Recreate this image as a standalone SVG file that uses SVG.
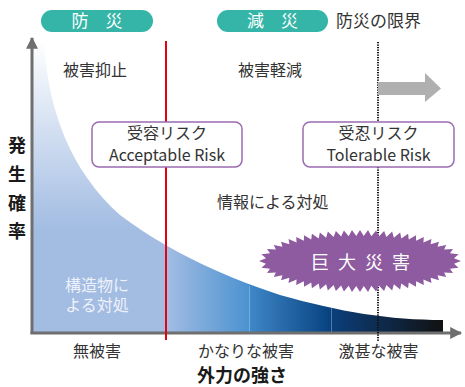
<svg xmlns="http://www.w3.org/2000/svg" width="465" height="387" viewBox="0 0 465 387">
<defs>
<style>
.t{font-family:"Noto Sans CJK JP","Noto Sans",sans-serif;font-size:16px;fill:#333;}
.w{fill:#fff;}
.c{text-anchor:middle;}
.b{font-weight:bold;fill:#1a1a1a;}
.pill{fill:#34b5a8;}
.box{fill:#fff;stroke:#9a6bb0;stroke-width:1.5;}
</style>
<linearGradient id="gv" x1="0" y1="40" x2="0" y2="230" gradientUnits="userSpaceOnUse">
<stop offset="0" stop-color="#ffffff"/>
<stop offset="1" stop-color="#a2bce2"/>
</linearGradient>
<linearGradient id="gh" x1="166" y1="0" x2="443" y2="0" gradientUnits="userSpaceOnUse">
<stop offset="0" stop-color="#a3bde3"/>
<stop offset="0.3" stop-color="#4b92d0"/>
<stop offset="0.3" stop-color="#3f88c9"/>
<stop offset="0.596" stop-color="#07417f"/>
<stop offset="0.596" stop-color="#0b3f7c"/>
<stop offset="1" stop-color="#111111"/>
</linearGradient>
<clipPath id="cl"><rect x="30" y="30" width="136" height="310"/></clipPath>
<clipPath id="cr"><rect x="166" y="30" width="290" height="310"/></clipPath>
<path id="area" d="M44,42 C48,110 70,170 120,215 C160,245 210,272 280,295 C340,312 390,320 443,320 L443,333 L32,333 L32,42 Z"/>
<marker id="ah" viewBox="0 0 10 10" refX="9" refY="5" markerWidth="4" markerHeight="4" orient="auto" markerUnits="strokeWidth"><path d="M0,0 L10,5 L0,10 Z" fill="#6f6f6f"/></marker>
</defs>

<g id="area-fill">
<use href="#area" fill="url(#gv)" clip-path="url(#cl)"/>
<use href="#area" fill="url(#gh)" clip-path="url(#cr)"/>
<line x1="249.5" y1="286" x2="249.5" y2="333" stroke="#ffffff" stroke-opacity="0.3" stroke-width="1"/>
<line x1="331.5" y1="308" x2="331.5" y2="333" stroke="#ffffff" stroke-opacity="0.3" stroke-width="1"/>
</g>

<g id="connectors">
<line x1="32" y1="334" x2="32" y2="38" stroke="#6f6f6f" stroke-width="3" marker-end="url(#ah)"/>
<line x1="30.5" y1="333" x2="461" y2="333" stroke="#6f6f6f" stroke-width="3" marker-end="url(#ah)"/>
<line x1="166" y1="41" x2="166" y2="340" stroke="#e60012" stroke-width="2"/>
<line x1="378" y1="42" x2="378" y2="341" stroke="#111" stroke-width="2" stroke-dasharray="1.2 1.3"/>
<path d="M378,82 L425,82 L425,73 L441,88.5 L425,102 L425,95 L378,95 Z" fill="#b0b0b0"/>
</g>

<g id="pill-bousai">
<rect class="pill" x="41" y="10" width="112" height="22" rx="11"/>
<text class="t w c" x="97" y="27" style="font-size:17px">防　災</text>
</g>
<g id="pill-gensai">
<rect class="pill" x="217" y="10" width="111" height="22" rx="11"/>
<text class="t w c" x="272.5" y="27" style="font-size:17px">減　災</text>
</g>
<g id="label-limit"><text class="t" x="336" y="27" style="font-size:17px">防災の限界</text></g>

<g id="label-yokushi"><text class="t" x="63" y="76">被害抑止</text></g>
<g id="label-keigen"><text class="t" x="238" y="76">被害軽減</text></g>

<g id="box-acceptable">
<rect class="box" x="92" y="122" width="150" height="45" rx="7"/>
<text class="t c" x="167" y="139">受容リスク</text>
<text class="t c" x="167" y="161">Acceptable Risk</text>
</g>
<g id="box-tolerable">
<rect class="box" x="303" y="122" width="151" height="45" rx="7"/>
<text class="t c" x="378.5" y="139">受忍リスク</text>
<text class="t c" x="378.5" y="161">Tolerable Risk</text>
</g>

<g id="label-yaxis">
<text class="t b c" x="17" y="152" style="font-size:18px">発</text>
<text class="t b c" x="17" y="181" style="font-size:18px">生</text>
<text class="t b c" x="17" y="210" style="font-size:18px">確</text>
<text class="t b c" x="17" y="238" style="font-size:18px">率</text>
</g>

<g id="label-info"><text class="t" x="217" y="208">情報による対処</text></g>

<g id="label-structure">
<text class="t c" style="fill:#eef2fa"><tspan x="97" y="291">構造物に</tspan><tspan x="97" y="311">よる対処</tspan></text>
</g>

<g id="burst">
<path fill="#8e5ba0" transform="translate(360,261) scale(1.052,1)" d="M96,0 L89.41,2.87 L93.65,6.82 L85.54,7.77 L88.39,12.09 L79.93,11.49 L82.02,16.11 L73.70,14.35 L75.12,19.30 L67.09,16.66 L67.95,21.90 L60.29,18.56 L60.64,24.03 L53.37,20.13 L53.21,25.80 L46.37,21.43 L45.71,27.26 L39.30,22.49 L38.14,28.45 L32.21,23.34 L30.56,29.39 L25.08,24.01 L22.93,30.10 L17.93,24.50 L15.30,30.60 L10.77,24.82 L7.65,30.90 L3.58,24.98 L0,31 L-3.58,24.98 L-7.65,30.90 L-10.77,24.82 L-15.30,30.60 L-17.93,24.50 L-22.93,30.10 L-25.08,24.01 L-30.56,29.39 L-32.21,23.34 L-38.14,28.45 L-39.30,22.49 L-45.71,27.26 L-46.37,21.43 L-53.21,25.80 L-53.37,20.13 L-60.64,24.03 L-60.29,18.56 L-67.95,21.90 L-67.09,16.66 L-75.12,19.30 L-73.70,14.35 L-82.02,16.11 L-79.93,11.49 L-88.39,12.09 L-85.54,7.77 L-93.65,6.82 L-89.41,2.87 L-96,0 L-89.41,-2.87 L-93.65,-6.82 L-85.54,-7.77 L-88.39,-12.09 L-79.93,-11.49 L-82.02,-16.11 L-73.70,-14.35 L-75.12,-19.30 L-67.09,-16.66 L-67.95,-21.90 L-60.29,-18.56 L-60.64,-24.03 L-53.37,-20.13 L-53.21,-25.80 L-46.37,-21.43 L-45.71,-27.26 L-39.30,-22.49 L-38.14,-28.45 L-32.21,-23.34 L-30.56,-29.39 L-25.08,-24.01 L-22.93,-30.10 L-17.93,-24.50 L-15.30,-30.60 L-10.77,-24.82 L-7.65,-30.90 L-3.58,-24.98 L0,-31 L3.58,-24.98 L7.65,-30.90 L10.77,-24.82 L15.30,-30.60 L17.93,-24.50 L22.93,-30.10 L25.08,-24.01 L30.56,-29.39 L32.21,-23.34 L38.14,-28.45 L39.30,-22.49 L45.71,-27.26 L46.37,-21.43 L53.21,-25.80 L53.37,-20.13 L60.64,-24.03 L60.29,-18.56 L67.95,-21.90 L67.09,-16.66 L75.12,-19.30 L73.70,-14.35 L82.02,-16.11 L79.93,-11.49 L88.39,-12.09 L85.54,-7.77 L93.65,-6.82 L89.41,-2.87 Z"/>
<text class="t w" x="311" y="269" style="font-size:18px" letter-spacing="9">巨大災害</text>
</g>

<g id="xlabels">
<text class="t c" x="97" y="357">無被害</text>
<text class="t c" x="246" y="357">かなりな被害</text>
<text class="t c" x="378.5" y="357">激甚な被害</text>
<text class="t b c" x="242" y="382" style="font-size:18px">外力の強さ</text>
</g>
</svg>
